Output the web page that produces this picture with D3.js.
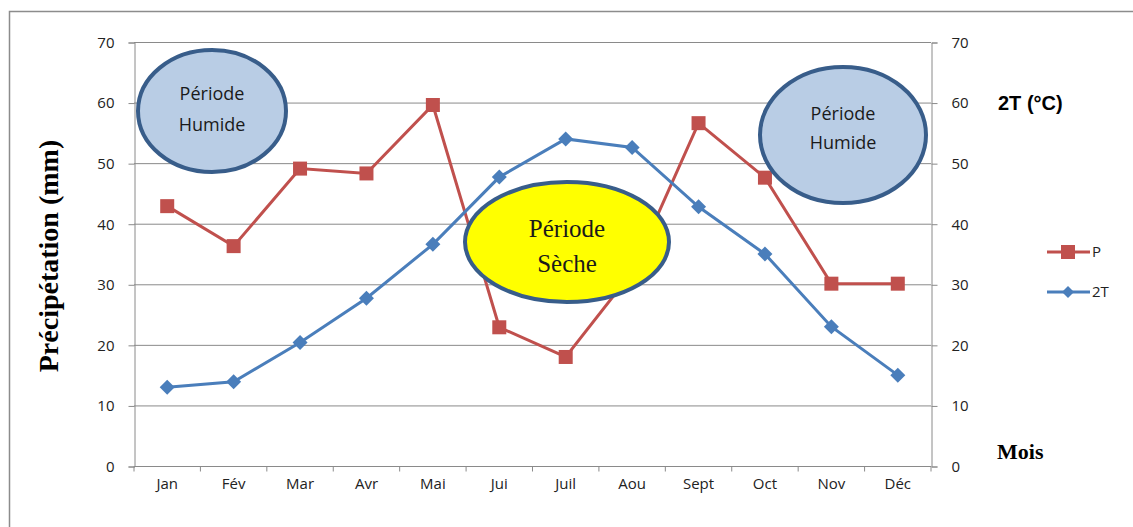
<!DOCTYPE html>
<html>
<head>
<meta charset="utf-8">
<script src="https://cdn.jsdelivr.net/npm/d3@7"></script>
<style>
  body { margin: 0; background: #fff; }
  svg { display: block; }
</style>
</head>
<body>
<div id="chart"></div>
<script>
let months = ["Jan", "Fév", "Mar", "Avr", "Mai", "Jui", "Juil", "Aou", "Sept", "Oct", "Nov", "Déc"];
let precip = [42.9, 36.3, 49.1, 48.3, 59.6, 22.9, 18, 32, 56.6, 47.6, 30.1, 30.1];
let temp2 = [13, 13.9, 20.4, 27.7, 36.6, 47.7, 54, 52.6, 42.8, 35, 23, 15];
let yTicks = [0, 10, 20, 30, 40, 50, 60, 70];

let width = 1133, height = 527;
let margin = {top: 42, right: 202, bottom: 61, left: 134};

let svg = d3.select("#chart").append("svg")
    .attr("width", width)
    .attr("height", height);

// outer frame
svg.append("rect")
    .attr("x", 9.5).attr("y", 11.5)
    .attr("width", width + 20).attr("height", height + 20)
    .attr("fill", "none")
    .attr("stroke", "#8c8c8c")
    .attr("stroke-width", 1.5);

let x = d3.scaleBand()
    .domain(months)
    .range([margin.left, width - margin.right]);

let y = d3.scaleLinear()
    .domain([0, 70])
    .range([height - margin.bottom, margin.top]);

let y2 = d3.scaleLinear()
    .domain([0, 70])
    .range([height - margin.bottom, margin.top]);

// gridlines
svg.append("g")
    .selectAll("line")
    .data(yTicks.slice(1))
    .enter()
    .append("line")
    .attr("x1", margin.left).attr("x2", width - margin.right)
    .attr("y1", d => y(d) + 0.5).attr("y2", d => y(d) + 0.5)
    .attr("stroke", "#8a8a8a")
    .attr("stroke-width", 1);

let tickFont = "'Open Sans', 'DejaVu Sans', sans-serif";

// left axis
let gl = svg.append("g")
    .attr("transform", "translate(" + (margin.left + 0.5) + ",0.5)")
    .call(d3.axisLeft(y).tickValues(yTicks).tickSize(6).tickPadding(14));
// right axis
let gr = svg.append("g")
    .attr("transform", "translate(" + (width - margin.right + 0.5) + ",0.5)")
    .call(d3.axisRight(y2).tickValues(yTicks).tickSize(6).tickPadding(14));
// bottom axis
let gb = svg.append("g")
    .attr("transform", "translate(0," + (height - margin.bottom + 0.5) + ")")
    .call(d3.axisBottom(x).tickSize(0).tickPadding(12));

gb.selectAll(".tick").append("line")
    .attr("x1", -x.bandwidth() / 2).attr("x2", -x.bandwidth() / 2)
    .attr("y1", 0).attr("y2", 5)
    .attr("stroke", "#8a8a8a");
gb.append("line")
    .attr("x1", width - margin.right).attr("x2", width - margin.right)
    .attr("y1", 0).attr("y2", 5)
    .attr("stroke", "#8a8a8a");

[gl, gr, gb].forEach(g => {
    g.select(".domain").attr("stroke", "#8a8a8a");
    g.selectAll(".tick line").attr("stroke", "#8a8a8a");
    g.selectAll("text")
        .attr("fill", "#222")
        .attr("font-family", tickFont)
        .attr("font-size", 15);
});
gb.select(".domain").attr("d", "M" + margin.left + ",0H" + (width - margin.right));

let cx = d => x(d) + x.bandwidth() / 2;
let diamondPath = s => "M0," + (-s) + "L" + s + ",0L0," + s + "L" + (-s) + ",0Z";

// P series
let lineP = d3.line()
    .x((d, i) => cx(months[i]))
    .y(d => y(d));
svg.append("path")
    .datum(precip)
    .attr("d", lineP)
    .attr("fill", "none")
    .attr("stroke", "#c0504d")
    .attr("stroke-width", 3);
svg.append("g")
    .selectAll("rect")
    .data(precip)
    .enter()
    .append("rect")
    .attr("x", (d, i) => cx(months[i]) - 7)
    .attr("y", d => y(d) - 7)
    .attr("width", 14).attr("height", 14)
    .attr("fill", "#c0504d");

// 2T series
let lineT = d3.line()
    .x((d, i) => cx(months[i]))
    .y(d => y2(d));
svg.append("path")
    .datum(temp2)
    .attr("d", lineT)
    .attr("fill", "none")
    .attr("stroke", "#4a7ebb")
    .attr("stroke-width", 3);
svg.append("g")
    .selectAll("path")
    .data(temp2)
    .enter()
    .append("path")
    .attr("d", diamondPath(7.5))
    .attr("transform", (d, i) => "translate(" + cx(months[i]) + "," + y2(d) + ")")
    .attr("fill", "#4a7ebb");

// period ellipses
let ellipses = [
    {cx: 212, cy: 111, rx: 74, ry: 61, fill: "#b9cde5", lines: ["Période", "Humide"], font: "'Open Sans', 'DejaVu Sans', sans-serif", size: 18, dy: [-17, 14]},
    {cx: 843, cy: 135, rx: 83, ry: 68, fill: "#b9cde5", lines: ["Période", "Humide"], font: "'Open Sans', 'DejaVu Sans', sans-serif", size: 18, dy: [-21, 8]},
    {cx: 567, cy: 242, rx: 102, ry: 60, fill: "#ffff00", lines: ["Période", "Sèche"], font: "'Liberation Serif', 'DejaVu Serif', serif", size: 25, dy: [-14, 21]}
];
let eg = svg.append("g")
    .selectAll("g")
    .data(ellipses)
    .enter()
    .append("g");
eg.append("ellipse")
    .attr("cx", d => d.cx).attr("cy", d => d.cy)
    .attr("rx", d => d.rx).attr("ry", d => d.ry)
    .attr("fill", d => d.fill)
    .attr("stroke", "#385d8a")
    .attr("stroke-width", 4);
eg.each(function (d) {
    let g = d3.select(this);
    d.lines.forEach((t, i) => {
        g.append("text")
            .attr("x", d.cx)
            .attr("y", d.cy + d.dy[i])
            .attr("dy", "0.35em")
            .attr("text-anchor", "middle")
            .attr("font-family", d.font)
            .attr("font-size", d.size)
            .attr("fill", "#1a1a1a")
            .text(t);
    });
});

// axis titles
svg.append("text")
    .attr("transform", "translate(58,256) rotate(-90)")
    .attr("text-anchor", "middle")
    .attr("font-family", "'Liberation Serif', 'DejaVu Serif', serif")
    .attr("font-weight", "bold")
    .attr("font-size", 28)
    .attr("fill", "#000")
    .text("Précipétation (mm)");

svg.append("text")
    .attr("x", 998).attr("y", 110)
    .attr("font-family", "'Liberation Sans', Arial, sans-serif")
    .attr("font-weight", "bold")
    .attr("font-size", 20)
    .attr("fill", "#000")
    .text("2T (°C)");

svg.append("text")
    .attr("x", 997).attr("y", 459)
    .attr("font-family", "'Liberation Serif', 'DejaVu Serif', serif")
    .attr("font-weight", "bold")
    .attr("font-size", 22)
    .attr("fill", "#000")
    .text("Mois");

// legend
let legend = [
    {name: "P", color: "#c0504d", shape: "square", y: 252},
    {name: "2T", color: "#4a7ebb", shape: "diamond", y: 292}
];
let lg = svg.append("g")
    .selectAll("g")
    .data(legend)
    .enter()
    .append("g")
    .attr("transform", d => "translate(1047," + d.y + ")");
lg.append("line")
    .attr("x1", 0).attr("x2", 43)
    .attr("stroke", d => d.color)
    .attr("stroke-width", 3);
lg.filter(d => d.shape === "square").append("rect")
    .attr("x", 14).attr("y", -7)
    .attr("width", 14).attr("height", 14)
    .attr("fill", d => d.color);
lg.filter(d => d.shape === "diamond").append("path")
    .attr("d", diamondPath(6))
    .attr("transform", "translate(21,0)")
    .attr("fill", d => d.color);
lg.append("text")
    .attr("x", 45).attr("dy", "0.35em")
    .attr("font-family", tickFont)
    .attr("font-size", 15)
    .attr("fill", "#222")
    .text(d => d.name);
</script>
</body>
</html>
